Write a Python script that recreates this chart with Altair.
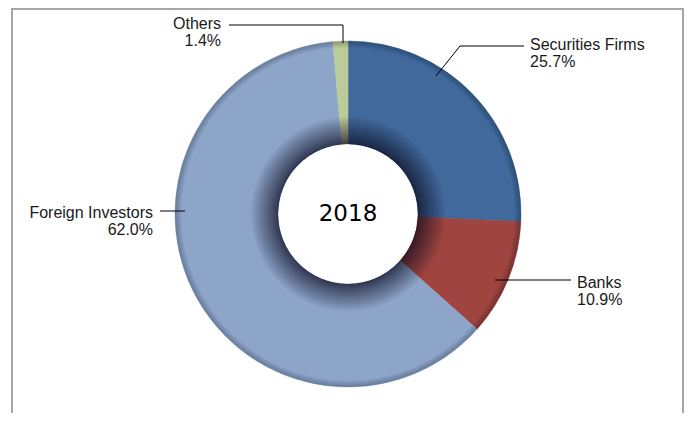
import math
import altair as alt
import pandas as pd

# ---------------- data ----------------
categories = ["Securities Firms", "Banks", "Foreign Investors", "Others"]
shares = [25.7, 10.9, 62.0, 1.4]
colors = ["#41699C", "#A0443F", "#8EA5CA", "#BCCB99"]
center_label = "2018"

# ---------------- layout ----------------
W, H = 676, 405
CX, CY = 340, 206          # donut centre (view px)
R_OUT, R_IN = 173, 70

# leader lines: pixel offsets from donut centre (text end -> slice)
leader = {
    "Securities Firms": [(176, -168), (112, -168), (88, -138)],
    "Banks": [(223, 66), (147, 66)],
    "Foreign Investors": [(-188, -3), (-163, -3)],
    "Others": [(-119, -189), (-5, -189), (-5, -171)],
}
# label anchor (offset x, offset y of first line, align)
label_pos = {
    "Securities Firms": (182, -169, "left"),
    "Banks": (229, 69, "left"),
    "Foreign Investors": (-195, -1, "right"),
    "Others": (-127, -190, "right"),
}
LINE_GAP = 16.5
FONT = "Liberation Sans"

slices = pd.DataFrame({"category": categories, "share": shares, "idx": range(len(categories))})

cscale = alt.Scale(domain=categories, range=colors)

base = alt.Chart(slices).mark_arc(outerRadius=R_OUT, innerRadius=R_IN, strokeWidth=0.6).encode(
    theta=alt.Theta("share:Q", stack=True),
    order=alt.Order("idx:Q"),
    color=alt.Color("category:N", scale=cscale, legend=None),
    stroke=alt.Stroke("category:N", scale=cscale, legend=None),
    x=alt.value(CX),
    y=alt.value(CY),
)

# shading rings (inner shadow and outer bevel)
N_IN = 26
rings_in = pd.DataFrame({
    "outer": [R_IN + 27 * ((k + 1) / N_IN) ** 1.8 for k in range(N_IN)],
    "inner": [R_IN] * N_IN,
})
shade_in = alt.Chart(rings_in).mark_arc(theta=0, theta2=6.2832, color="#0b1626", opacity=0.05).encode(
    radius=alt.Radius("outer:Q", scale=None),
    radius2=alt.Radius2("inner:Q"),
    x=alt.value(CX),
    y=alt.value(CY),
)
N_OUT = 8
rings_out = pd.DataFrame({
    "outer": [R_OUT] * N_OUT,
    "inner": [R_OUT - 0.8 * (k + 1) for k in range(N_OUT)],
})
shade_out = alt.Chart(rings_out).mark_arc(theta=0, theta2=6.2832, color="#0b1626", opacity=0.035).encode(
    radius=alt.Radius("outer:Q", scale=None),
    radius2=alt.Radius2("inner:Q"),
    x=alt.value(CX),
    y=alt.value(CY),
)

xs = alt.Scale(domain=[0, W], nice=False, zero=False)
ys = alt.Scale(domain=[0, H], nice=False, zero=False, reverse=True)

line_rows = []
for cat in categories:
    for i, (dx, dy) in enumerate(leader[cat]):
        line_rows.append({"category": cat, "seq": i, "x": CX + dx, "y": CY + dy})
lines_df = pd.DataFrame(line_rows)
lines = alt.Chart(lines_df).mark_line(color="#000000", strokeWidth=1).encode(
    x=alt.X("x:Q", scale=xs, axis=None),
    y=alt.Y("y:Q", scale=ys, axis=None),
    detail="category:N",
    order="seq:Q",
)

text_rows = []
for cat, val in zip(categories, shares):
    dx, dy, al = label_pos[cat]
    text_rows.append({"text": cat, "x": CX + dx, "y": CY + dy, "align": al})
    text_rows.append({"text": f"{val:.1f}%", "x": CX + dx, "y": CY + dy + LINE_GAP, "align": al})
text_df = pd.DataFrame(text_rows)

def label_layer(al):
    return alt.Chart(text_df).transform_filter(alt.datum.align == al).mark_text(
        align=al, baseline="middle", font=FONT, fontSize=16, color="#1a1a1a"
    ).encode(
        x=alt.X("x:Q", scale=xs, axis=None),
        y=alt.Y("y:Q", scale=ys, axis=None),
        text="text:N",
    )

one = pd.DataFrame({"a": [0]})
center = alt.Chart(one).mark_text(
    text=center_label, font="DejaVu Sans", fontSize=23, color="#000000", baseline="middle", align="center"
).encode(x=alt.value(CX), y=alt.value(CY))

bc = "#A6A6A6"
border_l = alt.Chart(one).mark_rule(color=bc, strokeWidth=2).encode(
    x=alt.value(4), y=alt.value(0), y2=alt.value(H))
border_r = alt.Chart(one).mark_rule(color=bc, strokeWidth=2).encode(
    x=alt.value(675), y=alt.value(0), y2=alt.value(H))
border_t = alt.Chart(one).mark_rule(color=bc, strokeWidth=2).encode(
    x=alt.value(4), x2=alt.value(675), y=alt.value(1))

chart = alt.layer(
    base, shade_in, shade_out, lines, label_layer("left"), label_layer("right"), center,
    border_l, border_r, border_t,
).properties(
    width=W, height=H, padding=0, autosize=alt.AutoSizeParams(type="none"),
    background="white",
).configure_view(stroke=None)

chart.save("out.html", embed_options={"renderer": "svg", "actions": False})
